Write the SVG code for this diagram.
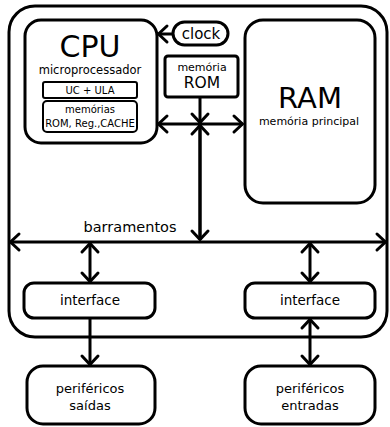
<svg xmlns="http://www.w3.org/2000/svg" width="390" height="427" viewBox="0 0 390 427">
<defs>
<marker id="ah" markerUnits="userSpaceOnUse" markerWidth="16" markerHeight="22" viewBox="0 0 16 22" refX="12" refY="11" orient="auto-start-reverse">
<path d="M3,3 L11.5,11 L3,19" fill="none" stroke="#000" stroke-width="3" stroke-linecap="round" stroke-linejoin="miter"/>
</marker>
</defs>
<style>
.b{fill:#fff;stroke:#000;stroke-width:3}
.s{fill:#fff;stroke:#000;stroke-width:2}
.l{fill:none;stroke:#000;stroke-width:3}
text{font-family:"DejaVu Sans","Liberation Sans",sans-serif;fill:#000;text-anchor:middle}
</style>
<rect width="390" height="427" fill="#fff"/>
<g id="system"><rect class="b" x="9" y="6" width="378" height="331" rx="26"/></g>
<g id="cpu">
<rect class="b" x="25" y="20" width="132" height="123" rx="16"/>
<text x="90" y="57" font-size="30">CPU</text>
<text x="90" y="74" font-size="11.5">microprocessador</text>
</g>
<g id="ucula"><rect class="s" x="43" y="82" width="94" height="16" rx="2"/><text x="90" y="94" font-size="10">UC + ULA</text></g>
<g id="memorias"><rect class="s" x="43" y="101" width="94" height="31" rx="4"/><text x="90" y="113" font-size="10">memórias</text><text x="90" y="127" font-size="10">ROM, Reg.,CACHE</text></g>
<g id="clock"><rect class="b" x="173" y="22" width="55" height="23" rx="11.5"/><text x="201" y="39" font-size="15">clock</text></g>
<g id="rom"><rect class="b" x="165" y="56" width="73" height="41" rx="3"/><text x="202" y="71" font-size="11">memória</text><text x="202" y="88" font-size="15.5">ROM</text></g>
<g id="ram"><rect class="b" x="245" y="20" width="130" height="183" rx="18"/><text x="310" y="108" font-size="29">RAM</text><text x="309" y="125" font-size="11">memória principal</text></g>
<g id="if1"><rect class="b" x="24" y="283" width="131" height="35" rx="10"/><text x="90" y="305" font-size="13.5">interface</text></g>
<g id="if2"><rect class="b" x="245" y="283" width="130" height="35" rx="10"/><text x="310" y="305" font-size="13.5">interface</text></g>
<g id="per1"><rect class="b" x="27" y="366" width="128" height="58" rx="16"/><text x="90" y="393" font-size="13">periféricos</text><text x="90" y="410" font-size="13">saídas</text></g>
<g id="per2"><rect class="b" x="245" y="366" width="130" height="58" rx="16"/><text x="310" y="393" font-size="13">periféricos</text><text x="310" y="410" font-size="13">entradas</text></g>
<text x="130" y="232" font-size="14.5">barramentos</text>
<g id="connectors">
<line class="l" x1="173" y1="34" x2="158" y2="34" marker-end="url(#ah)"/>
<line class="l" x1="158" y1="124" x2="243" y2="124" marker-start="url(#ah)" marker-end="url(#ah)"/>
<line class="l" x1="200" y1="97" x2="200" y2="123" marker-end="url(#ah)"/>
<line class="l" x1="200" y1="239" x2="200" y2="125" marker-end="url(#ah)"/>
<line class="l" x1="200" y1="125" x2="200" y2="240" marker-end="url(#ah)"/>
<line class="l" x1="10" y1="242" x2="386" y2="242" marker-start="url(#ah)" marker-end="url(#ah)"/>
<line class="l" x1="90" y1="243" x2="90" y2="282" marker-start="url(#ah)" marker-end="url(#ah)"/>
<line class="l" x1="310" y1="243" x2="310" y2="282" marker-start="url(#ah)" marker-end="url(#ah)"/>
<line class="l" x1="90" y1="318" x2="90" y2="365" marker-end="url(#ah)"/>
<line class="l" x1="310" y1="319" x2="310" y2="365" marker-start="url(#ah)" marker-end="url(#ah)"/>
</g>
</svg>
